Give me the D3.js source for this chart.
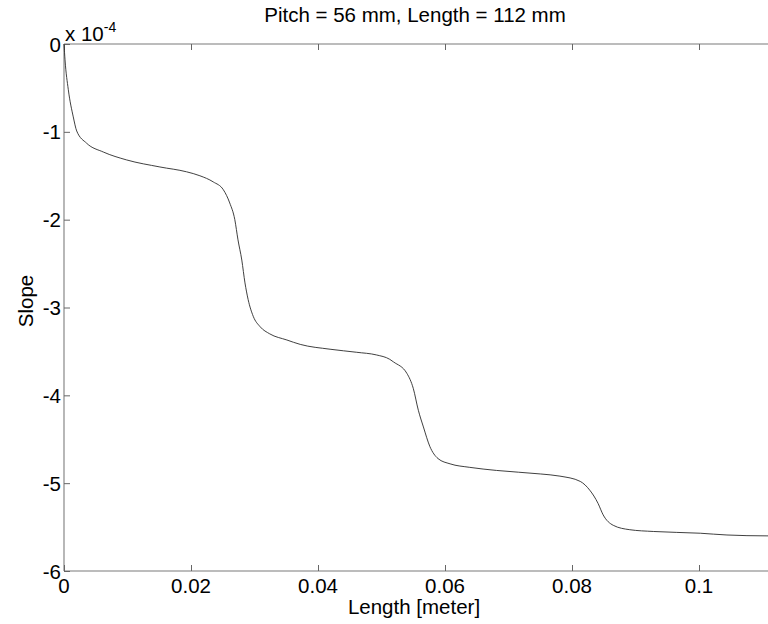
<!DOCTYPE html>
<html>
<head>
<meta charset="utf-8">
<script src="https://cdn.jsdelivr.net/npm/d3@7"></script>
<style>
  html, body { margin: 0; padding: 0; background: #fff; }
  svg { display: block; }
  text { font-family: "Liberation Sans", Arial, Helvetica, sans-serif; fill: #000; }
</style>
</head>
<body>
<svg id="chart" width="768" height="624"></svg>
<script>
// Slope along the beam (units of 1e-4)
const lengthM = [0, 0.00016, 0.00068, 0.00146, 0.0020, 0.00357, 0.0062, 0.00987, 0.0151, 0.0193,
  0.0214, 0.0235, 0.0251, 0.0261, 0.0269, 0.0274, 0.0280, 0.0285, 0.0290, 0.0298,
  0.0309, 0.0324, 0.0351, 0.0372, 0.0419, 0.0461, 0.0492, 0.0513, 0.0519, 0.0540,
  0.0550, 0.0558, 0.0566, 0.0576, 0.0589, 0.0608, 0.0639, 0.0681, 0.0750, 0.0781,
  0.0813, 0.0828, 0.0841, 0.0849, 0.0865, 0.0891, 0.0928, 0.1002, 0.1044, 0.1107, 0.112];
const slope = [0, -0.18, -0.52, -0.83, -0.99, -1.13, -1.23, -1.32, -1.40, -1.455,
  -1.50, -1.57, -1.66, -1.81, -2.00, -2.23, -2.46, -2.72, -2.91, -3.10,
  -3.22, -3.30, -3.37, -3.42, -3.475, -3.51, -3.54, -3.59, -3.62, -3.75,
  -3.92, -4.17, -4.36, -4.58, -4.72, -4.78, -4.82, -4.855, -4.895, -4.92,
  -4.98, -5.08, -5.23, -5.36, -5.48, -5.53, -5.55, -5.57, -5.59, -5.60, -5.60];
const xTicks = [0, 0.02, 0.04, 0.06, 0.08, 0.1];
const xTickLabels = ["0", "0.02", "0.04", "0.06", "0.08", "0.1"];
const yTicks = [0, -1, -2, -3, -4, -5, -6];
const yTickLabels = ["0", "-1", "-2", "-3", "-4", "-5", "-6"];
const titleText = "Pitch = 56 mm, Length = 112 mm";
const xLabelText = "Length [meter]";
const yLabelText = "Slope";

const svg = d3.select("#chart");
const plotLeft = 64, plotTop = 44, plotBottom = 571;
const x = d3.scaleLinear().domain([0, 0.112]).range([plotLeft, plotLeft + 0.112 * 6350]);
const y = d3.scaleLinear().domain([-6, 0]).range([plotBottom, plotTop]);
const plotRight = x(0.112);

const fs = 20.5;
const tickLen = 6;

// frame
const frame = svg.append("g").attr("stroke", "#a6a6a6").attr("stroke-width", 1.6).attr("fill", "none");
frame.append("line").attr("x1", plotLeft).attr("x2", plotRight).attr("y1", plotTop).attr("y2", plotTop);
frame.append("line").attr("x1", plotLeft).attr("x2", plotRight).attr("y1", plotBottom).attr("y2", plotBottom);
frame.append("line").attr("x1", plotLeft).attr("x2", plotLeft).attr("y1", plotTop).attr("y2", plotBottom);
frame.append("line").attr("x1", plotRight).attr("x2", plotRight).attr("y1", plotTop).attr("y2", plotBottom);

// inward ticks via d3 axes
const xb = svg.append("g").attr("transform", `translate(0,${plotBottom})`)
  .call(d3.axisTop(x).tickValues(xTicks).tickSize(tickLen).tickFormat(""));
const xt = svg.append("g").attr("transform", `translate(0,${plotTop})`)
  .call(d3.axisBottom(x).tickValues(xTicks).tickSize(tickLen).tickFormat(""));
const yl = svg.append("g").attr("transform", `translate(${plotLeft},0)`)
  .call(d3.axisRight(y).tickValues(yTicks).tickSize(tickLen).tickFormat(""));
const yr = svg.append("g").attr("transform", `translate(${plotRight},0)`)
  .call(d3.axisLeft(y).tickValues(yTicks).tickSize(tickLen).tickFormat(""));
[xb, xt, yl, yr].forEach(g => {
  g.select(".domain").remove();
  g.selectAll(".tick line").attr("stroke", "#666").attr("stroke-width", 1);
});

// tick labels
svg.append("g").selectAll("text").data(xTicks).join("text")
  .attr("x", d => x(d)).attr("y", 593)
  .attr("text-anchor", "middle").attr("font-size", fs)
  .text((d, i) => xTickLabels[i]);
svg.append("g").selectAll("text").data(yTicks).join("text")
  .attr("x", plotLeft - 3).attr("y", d => y(d) + 7.5)
  .attr("text-anchor", "end").attr("font-size", fs)
  .text((d, i) => yTickLabels[i]);

// exponent
const ex = svg.append("text").attr("x", 65).attr("y", 41).attr("font-size", fs);
ex.append("tspan").text("x 10");
ex.append("tspan").attr("dy", -9).attr("font-size", 14).text("-4");

// curve
svg.append("path")
  .datum(lengthM.map((v, i) => [v, slope[i]]))
  .attr("fill", "none").attr("stroke", "#2a2a2a").attr("stroke-width", 0.9)
  .attr("d", d3.line().x(d => x(d[0])).y(d => y(d[1])).curve(d3.curveMonotoneX));

// titles
svg.append("text").attr("x", 415).attr("y", 22).attr("text-anchor", "middle")
  .attr("font-size", fs).text(titleText);
svg.append("text").attr("x", 414).attr("y", 614).attr("text-anchor", "middle")
  .attr("font-size", fs).text(xLabelText);
svg.append("text").attr("transform", "translate(33,301) rotate(-90)")
  .attr("text-anchor", "middle").attr("font-size", fs).text(yLabelText);
</script>
</body>
</html>
